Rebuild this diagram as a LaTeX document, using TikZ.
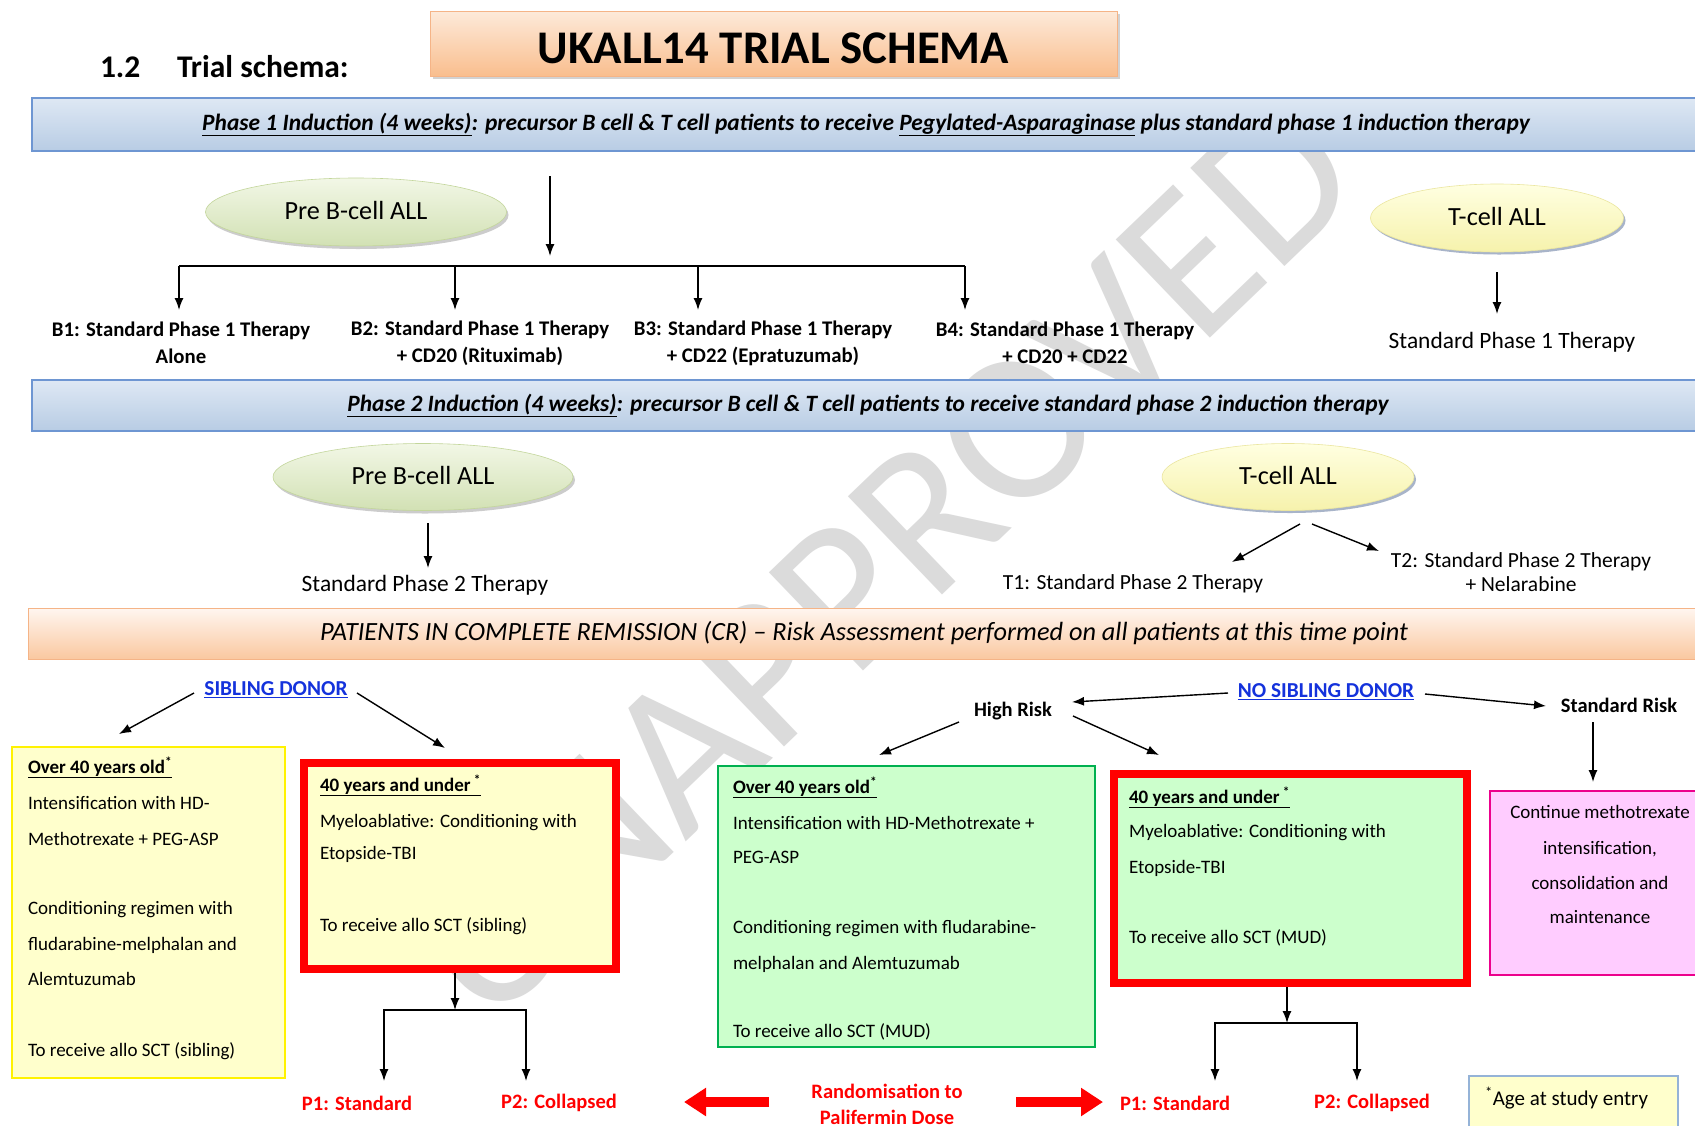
\documentclass[tikz,border=0pt]{standalone}
\usepackage{fontspec}
\setmainfont{Carlito}
\usetikzlibrary{shapes.geometric,shadows,arrows.meta}
\definecolor{donorblue}{RGB}{20,50,220}
\definecolor{barborder}{RGB}{110,150,210}
\definecolor{bartop}{RGB}{222,232,244}
\definecolor{barbot}{RGB}{184,204,228}
\definecolor{crtop}{RGB}{255,246,240}
\definecolor{crbot}{RGB}{250,200,160}
\definecolor{crborder}{RGB}{245,180,135}
\definecolor{ttop}{RGB}{253,234,218}
\definecolor{tbot}{RGB}{249,190,142}
\definecolor{lightyel}{RGB}{255,255,204}
\definecolor{lightgrn}{RGB}{204,255,204}
\definecolor{boxgreen}{RGB}{0,176,80}
\definecolor{lightpink}{RGB}{255,204,255}
\definecolor{footborder}{RGB}{149,179,215}
\definecolor{gtop}{RGB}{242,247,230}
\definecolor{gbot}{RGB}{210,225,180}
\definecolor{gline}{RGB}{195,214,155}
\definecolor{ytop}{RGB}{255,255,225}
\definecolor{ybot}{RGB}{246,242,172}
\definecolor{yline}{RGB}{235,230,160}
\definecolor{shblue}{RGB}{110,130,165}
\newcommand\fsz[2]{\fontsize{#1}{#2}\selectfont}
\newcommand\shiftv[2]{\raisebox{#1}[\height][\depth]{#2}}
\begin{document}
\begin{tikzpicture}[x=1pt,y=-1pt,
  every node/.style={inner sep=0pt,outer sep=0pt},
  arr/.style={line width=1.4pt,-{Latex[length=12pt,width=9pt]}},
  ln/.style={line width=1.4pt},
  bigarr/.style={line width=10pt,draw=red,-{Triangle[length=22pt,width=27pt]}},
  titlebox/.style={draw=crborder,line width=1pt,top color=ttop,bottom color=tbot,
    drop shadow={shadow xshift=3pt,shadow yshift=-3pt,opacity=0.35}},
  phasebar/.style={draw=barborder,line width=1.5pt,top color=bartop,bottom color=barbot,
    font=\fsz{23.4}{26}\bfseries\itshape},
  crbar/.style={draw=crborder,line width=1pt,top color=crtop,bottom color=crbot,
    font=\fsz{26.3}{30}\itshape},
  bell/.style={ellipse,draw=gline,line width=0.6pt,top color=gtop,bottom color=gbot,
    drop shadow={shadow xshift=2pt,shadow yshift=-3pt,opacity=0.4},font=\fsz{26.2}{30}},
  tell/.style={ellipse,draw=yline,line width=0.6pt,top color=ytop,bottom color=ybot,
    drop shadow={shadow xshift=2pt,shadow yshift=-2.5pt,opacity=0.6,fill=shblue},font=\fsz{26.2}{30}},
  blab/.style={font=\fsz{20.8}{27}\bfseries,align=center},
  rlab/.style={font=\fsz{23.4}{27}},
  tlab/.style={font=\fsz{21.5}{24},align=center},
  bx/.style={font=\fsz{19}{23},anchor=base west},
  bxc/.style={font=\fsz{19}{23},anchor=base},
  hd/.style={font=\fsz{19}{23}\bfseries,anchor=base west},
  redlab/.style={font=\fsz{20.5}{26}\bfseries,text=red,align=center},
  donor/.style={font=\fsz{21.3}{24}\bfseries,text=donorblue},
  risk/.style={font=\fsz{20.5}{24}\bfseries},
]
\useasboundingbox (0,0) rectangle (1695,1125);
\fill[white] (0,0) rectangle (1695,1125);

% watermark
\node[rotate=43.8,font=\fsz{212}{212},text=black!14] (wm) at (881,560) {UNAPPROVED};

% header
\node[font=\fsz{31.5}{34}\bfseries,anchor=west] (sec) at (100,67) {1.2};
\node[font=\fsz{31.5}{34}\bfseries,anchor=west] (schema) at (177,67) {Trial schema:};
\node[titlebox,minimum width=687pt,minimum height=65pt,anchor=north west,
  font=\fsz{46.8}{50}\bfseries] (title) at (430,11) {\shiftv{-5pt}{UKALL14 TRIAL SCHEMA}};

% phase 1
\node[phasebar,minimum width=1668pt,minimum height=53pt,anchor=north west] (ph1) at (32,98)
  {\underline{Phase 1 Induction (4 weeks)}: precursor B cell \& T cell patients to receive \underline{Pegylated-Asparaginase} plus standard phase 1 induction therapy};

\node[bell,minimum width=301pt,minimum height=68pt] (preb1) at (356,212) {\shiftv{2pt}{Pre B-cell ALL}};
\node[tell,minimum width=253pt,minimum height=68pt] (tcell1) at (1497,218) {\shiftv{2pt}{T-cell ALL}};

\coordinate (ctop) at (550,176);
\coordinate (cbot) at (550,256);
\draw[arr] (ctop) -- (cbot);
\coordinate (hl) at (179,266);
\coordinate (hr) at (965,266);
\draw[ln] (hl) -- (hr);
\node[blab] (b1) at (181,343) {B1: Standard Phase 1 Therapy\\Alone};
\node[blab] (b2) at (480,343) {B2: Standard Phase 1 Therapy\\+ CD20 (Rituximab)};
\node[blab] (b3) at (763,343) {B3: Standard Phase 1 Therapy\\+ CD22 (Epratuzumab)};
\node[blab] (b4) at (1065,343) {B4: Standard Phase 1 Therapy\\+ CD20 + CD22};
\foreach \xx/\nm in {179/b1,455/b2,698/b3,965/b4}{
  \coordinate (d\nm) at (\xx,266);
  \coordinate (e\nm) at (\xx,310);
  \draw[arr] (d\nm) -- (e\nm);
}
\coordinate (t1a) at (1497,272);
\coordinate (t1b) at (1497,314);
\draw[arr] (t1a) -- (t1b);
\node[rlab] (std1) at (1512,342) {Standard Phase 1 Therapy};

% phase 2
\node[phasebar,minimum width=1668pt,minimum height=51pt,anchor=north west] (ph2) at (32,380)
  {\hspace*{4pt}\underline{Phase 2 Induction (4 weeks)}: precursor B cell \& T cell patients to receive standard phase 2 induction therapy};
\node[bell,minimum width=300pt,minimum height=67pt] (preb2) at (423,477) {\shiftv{2pt}{Pre B-cell ALL}};
\node[tell,minimum width=252pt,minimum height=67pt] (tcell2) at (1288,477) {\shiftv{2pt}{T-cell ALL}};
\coordinate (p2a) at (428,523);
\coordinate (p2b) at (428,568);
\draw[arr] (p2a) -- (p2b);
\node[rlab] (std2) at (425,585) {Standard Phase 2 Therapy};
\coordinate (ta1) at (1300,524);
\coordinate (ta2) at (1232,562);
\coordinate (tb1) at (1312,524);
\coordinate (tb2) at (1379,551);
\draw[arr] (ta1) -- (ta2);
\draw[arr] (tb1) -- (tb2);
\node[tlab] (t1) at (1133,584) {T1: Standard Phase 2 Therapy};
\node[tlab] (t2) at (1521,572) {T2: Standard Phase 2 Therapy\\+ Nelarabine};

% CR bar
\node[crbar,minimum width=1672pt,minimum height=51pt,anchor=north west] (cr) at (28,608)
  {PATIENTS IN COMPLETE REMISSION (CR) -- Risk Assessment performed on all patients at this time point};

% sibling donor
\node[donor] (sib) at (276,690) {\underline{SIBLING DONOR}};
\coordinate (s1a) at (194,693);
\coordinate (s1b) at (119,734);
\coordinate (s2a) at (357,693);
\coordinate (s2b) at (445,748);
\draw[arr] (s1a) -- (s1b);
\draw[arr] (s2a) -- (s2b);

% left yellow box
\node[draw=yellow,line width=2.5pt,fill=lightyel,minimum width=273pt,minimum height=331pt,anchor=north west] (ybox) at (12,747) {};
\node[hd] (y1) at (28,773) {\underline{Over 40 years old\textsuperscript{*}}};
\node[bx] (y2) at (28,809) {Intensification with HD-};
\node[bx] (y3) at (28,845) {Methotrexate + PEG-ASP};
\node[bx] (y4) at (28,914) {Conditioning regimen with};
\node[bx] (y5) at (28,950) {fludarabine-melphalan and};
\node[bx] (y6) at (28,985) {Alemtuzumab};
\node[bx] (y7) at (28,1056) {To receive allo SCT (sibling)};

% red box 1
\node[draw=red,line width=8pt,fill=lightyel,minimum width=312pt,minimum height=206pt,anchor=north west] (rb1) at (304,763) {};
\node[hd] (r1) at (320,791) {\underline{40 years and under\,\textsuperscript{*}}};
\node[bx] (r2) at (320,827) {Myeloablative: Conditioning with};
\node[bx] (r3) at (320,859) {Etopside-TBI};
\node[bx] (r4) at (320,931) {To receive allo SCT (sibling)};
\coordinate (rs1a) at (455,973);
\coordinate (rs1b) at (455,1010);
\draw[arr] (rs1a) -- (rs1b);
\coordinate (rh1l) at (384,1010);
\coordinate (rh1r) at (526,1010);
\coordinate (rp1) at (384,1081);
\coordinate (rp2) at (526,1081);
\draw[arr] (rh1r) -- (rh1l) -- (rp1);
\draw[arr] (rh1l) -- (rh1r) -- (rp2);
\node[redlab] (p1a) at (357,1103) {P1: Standard};
\node[redlab] (p2a) at (559,1103) {P2: Collapsed};

% randomisation
\node[redlab,anchor=north] (rand) at (887,1084) {Randomisation to\\Palifermin Dose};
\coordinate (la1) at (769,1102);
\coordinate (la2) at (684,1102);
\coordinate (ra1) at (1016,1102);
\coordinate (ra2) at (1103,1102);
\draw[bigarr] (la1) -- (la2);
\draw[bigarr] (ra1) -- (ra2);

% no sibling donor
\node[risk] (high) at (1013,711) {High Risk};
\node[donor] (nosib) at (1326,692) {\underline{NO SIBLING DONOR}};
\node[risk] (stdrisk) at (1619,705) {Standard Risk};
\coordinate (n1a) at (1228,693);
\coordinate (n1b) at (1072,702);
\coordinate (n2a) at (1425,694);
\coordinate (n2b) at (1546,706);
\draw[arr] (n1a) -- (n1b);
\draw[arr] (n2a) -- (n2b);
\coordinate (h1a) at (959,722);
\coordinate (h1b) at (879,755);
\coordinate (h2a) at (1073,716);
\coordinate (h2b) at (1159,755);
\draw[arr] (h1a) -- (h1b);
\draw[arr] (h2a) -- (h2b);
\coordinate (sra) at (1593,722);
\coordinate (srb) at (1593,782);
\draw[arr] (sra) -- (srb);

% green box
\node[draw=boxgreen,line width=2pt,fill=lightgrn,minimum width=377pt,minimum height=281pt,anchor=north west] (gbox) at (718,766) {};
\node[hd] (g1) at (733,793) {\underline{Over 40 years old\textsuperscript{*}}};
\node[bx] (g2) at (733,829) {Intensification with HD-Methotrexate +};
\node[bx] (g3) at (733,863) {PEG-ASP};
\node[bx] (g4) at (733,933) {Conditioning regimen with fludarabine-};
\node[bx] (g5) at (733,969) {melphalan and Alemtuzumab};
\node[bx] (g6) at (733,1037) {To receive allo SCT (MUD)};

% red box 2
\node[draw=red,line width=8pt,fill=lightgrn,minimum width=353pt,minimum height=209pt,anchor=north west] (rb2) at (1114,774) {};
\node[hd] (m1) at (1129,803) {\underline{40 years and under\,\textsuperscript{*}}};
\node[bx] (m2) at (1129,837) {Myeloablative: Conditioning with};
\node[bx] (m3) at (1129,873) {Etopside-TBI};
\node[bx] (m4) at (1129,943) {To receive allo SCT (MUD)};
\coordinate (rs2a) at (1287,987);
\coordinate (rs2b) at (1287,1023);
\draw[arr] (rs2a) -- (rs2b);
\coordinate (rh2l) at (1215,1023);
\coordinate (rh2r) at (1357,1023);
\coordinate (rq1) at (1215,1081);
\coordinate (rq2) at (1357,1081);
\draw[arr] (rh2r) -- (rh2l) -- (rq1);
\draw[arr] (rh2l) -- (rh2r) -- (rq2);
\node[redlab] (p1b) at (1175,1103) {P1: Standard};
\node[redlab] (p2b) at (1372,1103) {P2: Collapsed};

% pink box
\node[draw=magenta,line width=2pt,fill=lightpink,minimum width=215pt,minimum height=184pt,anchor=north west] (pbox) at (1490,791) {};
\node[bxc] (k1) at (1600,818) {Continue methotrexate};
\node[bxc] (k2) at (1600,854) {intensification,};
\node[bxc] (k3) at (1600,889) {consolidation and};
\node[bxc] (k4) at (1600,923) {maintenance};

% footnote
\node[draw=footborder,line width=2pt,fill=lightyel,minimum width=209pt,minimum height=70pt,anchor=north west] (fbox) at (1469,1076) {};
\node[font=\fsz{21}{24},anchor=base west] (foot) at (1485,1105) {\textsuperscript{*}Age at study entry};
\end{tikzpicture}
\end{document}
